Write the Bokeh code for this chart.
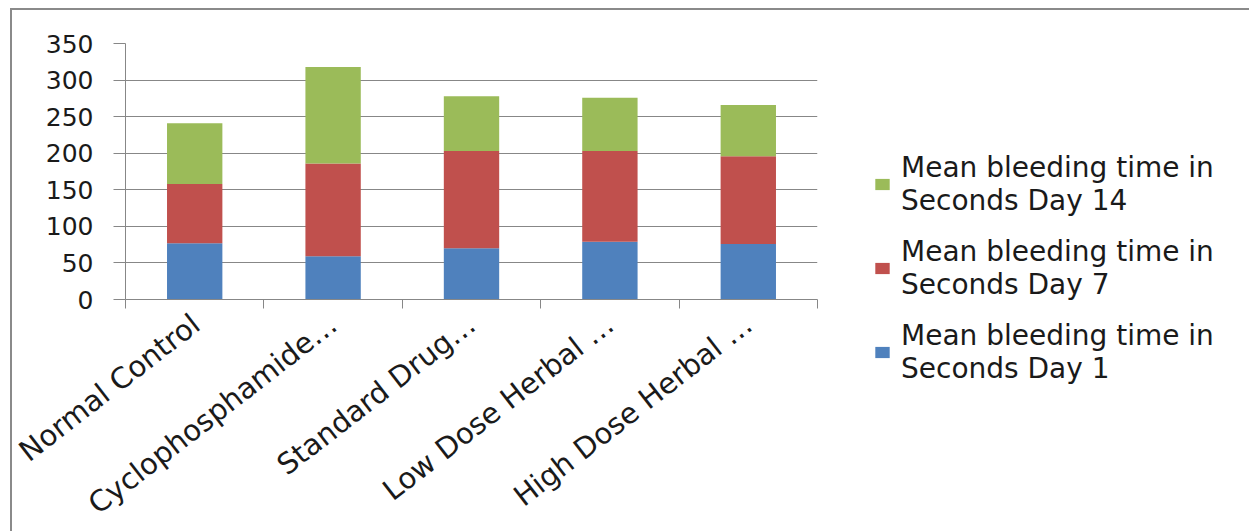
from bokeh.plotting import figure
from bokeh.models import (Range1d, FixedTicker, Legend, LegendItem, ColumnDataSource)
from bokeh.embed import file_html
from bokeh.resources import INLINE

categories = ["Normal Control", "Cyclophosphamide\u2026", "Standard Drug\u2026",
              "Low Dose Herbal \u2026", "High Dose Herbal \u2026"]
day1 = [77, 59, 70, 79, 76]
day7 = [81, 127, 133, 124, 120]
day14 = [83, 132, 75, 73, 70]
series_names = ["Mean bleeding time in\nSeconds Day 1",
                "Mean bleeding time in\nSeconds Day 7",
                "Mean bleeding time in\nSeconds Day 14"]
colors = ["#4F81BD", "#C0504D", "#9BBB59"]
y_ticks = [0, 50, 100, 150, 200, 250, 300, 350]

OX, OY = 12, 10  # outer frame offset (margin + border)
left, top = 125 - OX, 43 - OY
FW, FH = 692, 256
bottom = 531 - OY - top - FH

p = figure(frame_width=FW, frame_height=FH, output_backend="svg", toolbar_location=None,
           x_range=Range1d(0, len(categories)), y_range=Range1d(0, 350),
           min_border_left=left, min_border_right=0,
           min_border_top=top, min_border_bottom=bottom)
p.styles = {"margin-left": "10px", "margin-top": "8px",
            "border-left": "2px solid #8a8a8a", "border-top": "2px solid #8a8a8a"}
p.outline_line_color = None
p.background_fill_color = "white"
p.border_fill_color = "white"

xs = [i + 0.5 for i in range(len(categories))]
src = ColumnDataSource(dict(x=xs, d1=day1, d7=day7, d14=day14))
rs = p.vbar_stack(["d1", "d7", "d14"], x="x", width=0.4, source=src,
                  color=colors, line_color=None)

legend = Legend(items=[LegendItem(label=series_names[2], renderers=[rs[2]]),
                       LegendItem(label=series_names[1], renderers=[rs[1]]),
                       LegendItem(label=series_names[0], renderers=[rs[0]])],
                location=(56, -86))
legend.label_text_font = "DejaVu Sans"
legend.label_text_font_size = "28px"
legend.label_text_line_height = 1.3
legend.label_text_color = "#1a1a1a"
legend.glyph_width = 18
legend.glyph_height = 14
legend.label_standoff = 10
legend.spacing = 18
legend.padding = 0
legend.margin = 0
legend.border_line_color = None
legend.background_fill_alpha = 0
p.add_layout(legend, "right")

grid_col = "#878787"
p.yaxis.ticker = FixedTicker(ticks=y_ticks)
p.yaxis.major_tick_out = 12
p.yaxis.major_tick_in = 0
p.yaxis.minor_tick_line_color = None
p.yaxis.axis_line_color = grid_col
p.yaxis.major_tick_line_color = grid_col
p.yaxis.major_label_text_font = "DejaVu Sans"
p.yaxis.major_label_text_font_size = "25px"
p.yaxis.major_label_text_color = "#1a1a1a"
p.yaxis.major_label_standoff = 20

p.xaxis.ticker = FixedTicker(ticks=xs, minor_ticks=list(range(len(categories) + 1)))
p.xaxis.major_label_overrides = {x: c for x, c in zip(xs, categories)}
p.xaxis.major_tick_line_color = None
p.xaxis.minor_tick_out = 9
p.xaxis.minor_tick_in = 0
p.xaxis.minor_tick_line_color = grid_col
p.xaxis.axis_line_color = grid_col
p.xaxis.major_label_orientation = 0.66
p.xaxis.major_label_text_font = "DejaVu Sans"
p.xaxis.major_label_text_font_size = "29px"
p.xaxis.major_label_text_color = "#1a1a1a"
p.xaxis.major_label_standoff = 12

p.xgrid.grid_line_color = None
p.ygrid.ticker = FixedTicker(ticks=y_ticks)
p.ygrid.grid_line_color = grid_col
p.ygrid.grid_line_width = 1

open("out.html", "w").write(file_html(p, INLINE))
